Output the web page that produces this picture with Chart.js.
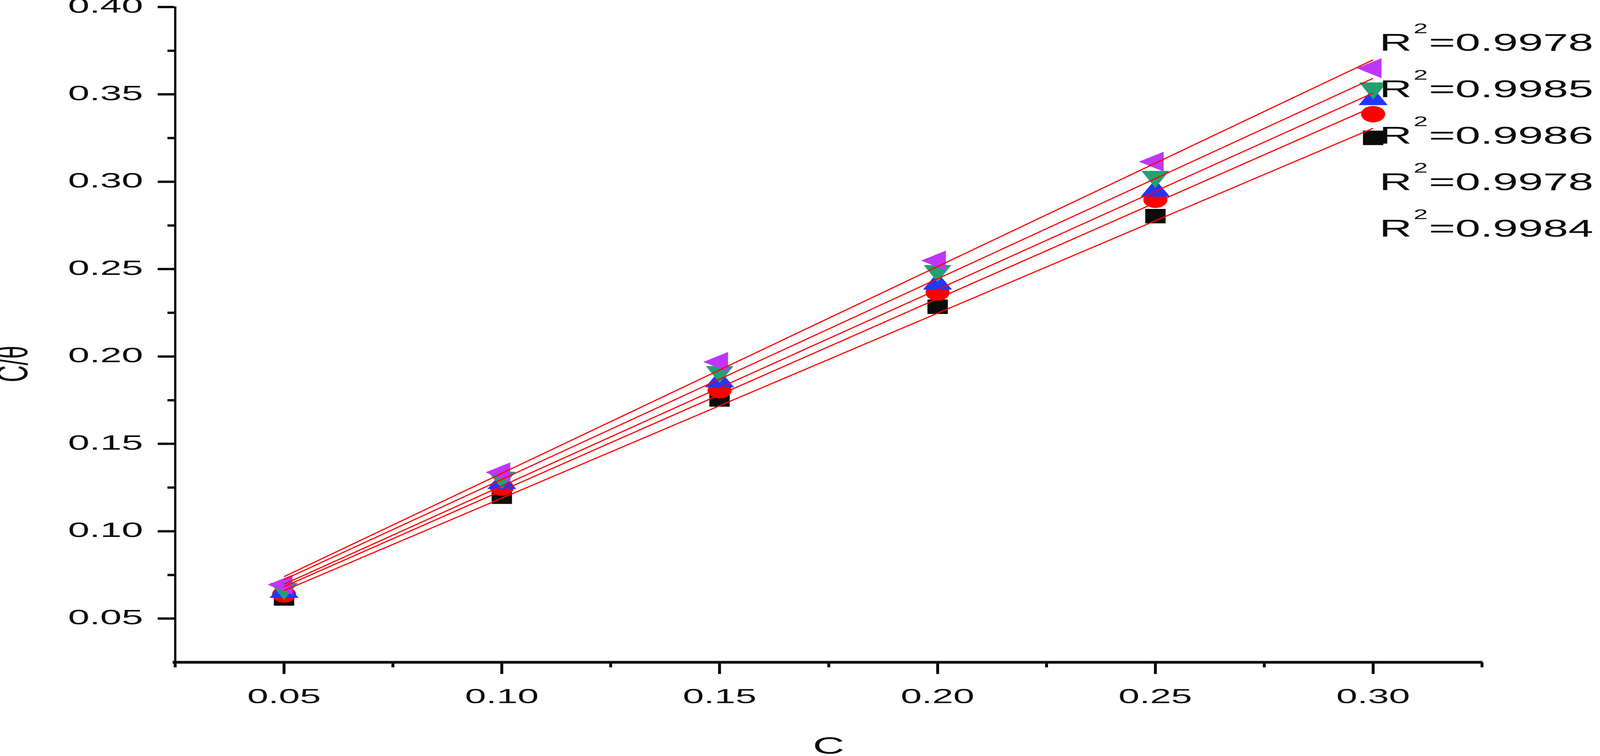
<!DOCTYPE html>
<html>
<head>
<meta charset="utf-8">
<title>C/θ vs C</title>
<script src="https://cdn.jsdelivr.net/npm/chart.js@4.4.1/dist/chart.umd.min.js"></script>
<style>
  html, body { margin: 0; padding: 0; background: #fff; overflow: hidden; }
  #wrap { position: relative; width: 2197px; height: 1936px; transform-origin: 0 0; }
</style>
</head>
<body>
<div id="wrap"><canvas id="isotherm"></canvas></div>
<script>
// data
const concentrations = [0.05, 0.10, 0.15, 0.20, 0.25, 0.30];
const squareSeries   = [0.0615, 0.1198, 0.1754, 0.2285, 0.2803, 0.3251];
const circleSeries   = [0.0638, 0.1250, 0.1807, 0.2366, 0.2897, 0.3387];
const upTriSeries    = [0.0651, 0.1274, 0.1856, 0.2415, 0.2948, 0.3471];
const downTriSeries  = [0.0672, 0.1308, 0.1913, 0.2491, 0.3030, 0.3536];
const leftTriSeries  = [0.0694, 0.1337, 0.1969, 0.2549, 0.3115, 0.3650];

// linear fit lines, start and end values
const fitX        = [0.05, 0.30];
const fitSquare   = [0.0660, 0.3306];
const fitCircle   = [0.0683, 0.3429];
const fitUpTri    = [0.0697, 0.3508];
const fitDownTri  = [0.0723, 0.3592];
const fitLeftTri  = [0.0740, 0.3698];

const r2Labels = ["0.9978", "0.9985", "0.9986", "0.9978", "0.9984"];

const xMajorTicks = [0.05, 0.10, 0.15, 0.20, 0.25, 0.30];
const xMinorTicks = [0.025, 0.075, 0.125, 0.175, 0.225, 0.275, 0.325];
const yMajorTicks = [0.05, 0.10, 0.15, 0.20, 0.25, 0.30, 0.35, 0.40];
const yMinorTicks = [0.075, 0.125, 0.175, 0.225, 0.275, 0.325, 0.375];

const FONT = '"Liberation Sans", Arial, sans-serif';
const INK = "#0b0b0b";
const NBSP = "\u00A0";

// the original figure is wide: lay it out at 2197x1936 and stretch it to the window
const wrap = document.getElementById("wrap");
const sx = (window.innerWidth || 4175) / 2197;
const sy = (window.innerHeight || 1936) / 1936;
wrap.style.transform = `scale(${sx}, ${sy})`;

let chart = null;

// marker images drawn at 4x so they stay sharp after the stretch
function makeMarker(w, h, draw) {
  const k = 4;
  const c = document.createElement("canvas");
  c.width = w * k;
  c.height = h * k;
  const g = c.getContext("2d");
  g.scale(k, k);
  draw(g);
  const img = new Image();
  img.width = w;
  img.height = h;
  img.onload = () => { if (chart) chart.draw(); };
  img.src = c.toDataURL();
  return img;
}

function poly(g, color, pts) {
  g.fillStyle = color;
  g.beginPath();
  pts.forEach(([x, y], i) => (i ? g.lineTo(x, y) : g.moveTo(x, y)));
  g.closePath();
  g.fill();
}

const squareImg = makeMarker(28, 37, g => { g.fillStyle = INK; g.fillRect(0, 0, 28, 37); });
const circleImg = makeMarker(33, 42, g => {
  g.fillStyle = "#ff0000";
  g.beginPath();
  g.ellipse(16.5, 21, 16.5, 21, 0, 0, Math.PI * 2);
  g.fill();
});
const upTriImg = makeMarker(40, 59, g => poly(g, "#2236ff", [[20, 0], [40, 44], [0, 44]]));
const downTriImg = makeMarker(38, 59, g => poly(g, "#22a073", [[0, 15], [38, 15], [19, 59]]));
const leftTriImg = makeMarker(45, 51, g => poly(g, "#bf36f8", [[0, 25.5], [34, 0], [34, 51]]));

function pointSet(label, values, img, order) {
  return {
    label,
    data: concentrations.map((c, i) => ({ x: c, y: values[i] })),
    pointStyle: img,
    pointRadius: 12,
    showLine: false,
    order
  };
}

function fitSet(label, ends) {
  return {
    label,
    data: fitX.map((c, i) => ({ x: c, y: ends[i] })),
    showLine: true,
    borderColor: "#ff0000",
    borderWidth: 2.5,
    pointRadius: 0,
    fill: false,
    order: 0
  };
}

// R² values written beside the line ends
const r2Plugin = {
  id: "r2Text",
  afterDraw(c) {
    const ctx = c.ctx;
    ctx.save();
    ctx.fillStyle = INK;
    ctx.textAlign = "left";
    ctx.textBaseline = "alphabetic";
    r2Labels.forEach((r, i) => {
      const y = 130 + i * 119;
      ctx.font = `62px ${FONT}`;
      ctx.fillText("R", 1894, y);
      ctx.fillText("=" + r, 1962, y);
      ctx.font = `35px ${FONT}`;
      ctx.fillText("2", 1941, y - 45);
    });
    ctx.restore();
  }
};

const tickFont = size => ({ family: FONT, size });

chart = new Chart(document.getElementById("isotherm"), {
  type: "scatter",
  data: {
    datasets: [
      pointSet("square", squareSeries, squareImg, 5),
      pointSet("circle", circleSeries, circleImg, 4),
      pointSet("up triangle", upTriSeries, upTriImg, 3),
      pointSet("down triangle", downTriSeries, downTriImg, 2),
      pointSet("left triangle", leftTriSeries, leftTriImg, 1),
      fitSet("fit square", fitSquare),
      fitSet("fit circle", fitCircle),
      fitSet("fit up", fitUpTri),
      fitSet("fit down", fitDownTri),
      fitSet("fit left", fitLeftTri)
    ]
  },
  options: {
    responsive: true,
    maintainAspectRatio: false,
    animation: false,
    devicePixelRatio: 2,
    events: [],
    layout: { padding: { left: 0, top: 18, right: 162, bottom: 0 } },
    plugins: {
      legend: { display: false },
      tooltip: { enabled: false }
    },
    scales: {
      x: {
        type: "linear",
        position: "bottom",
        min: 0.025,
        max: 0.325,
        afterBuildTicks: s => { s.ticks = xMajorTicks.map(v => ({ value: v })); },
        afterFit: s => { s.height = 240; s.paddingLeft = 0; s.paddingRight = 0; },
        ticks: {
          padding: 29,
          maxRotation: 0,
          autoSkip: false,
          color: INK,
          font: tickFont(52),
          callback: v => v.toFixed(2)
        },
        grid: { drawOnChartArea: false, tickLength: 30, tickWidth: 4, tickColor: INK },
        border: { color: INK, width: 7 },
        title: {
          display: true,
          text: "C",
          color: INK,
          font: { family: FONT, size: 60, lineHeight: 0.75 },
          padding: 0
        }
      },
      x2: {
        type: "linear",
        position: { y: 0.025 },
        min: 0.025,
        max: 0.325,
        afterBuildTicks: s => { s.ticks = xMinorTicks.map(v => ({ value: v })); },
        afterFit: s => { s.height = 0; s.paddingLeft = 0; s.paddingRight = 0; },
        ticks: { display: false },
        grid: { drawOnChartArea: false, tickLength: 13, tickWidth: 4, tickColor: INK },
        border: { display: false }
      },
      y: {
        type: "linear",
        position: "left",
        min: 0.025,
        max: 0.40,
        afterBuildTicks: s => { s.ticks = yMajorTicks.map(v => ({ value: v })); },
        afterFit: s => { s.width = 240.5; s.paddingTop = 0; s.paddingBottom = 0; },
        ticks: {
          padding: 20,
          color: INK,
          font: tickFont(53),
          callback: v => v.toFixed(2)
        },
        grid: { drawOnChartArea: false, tickLength: 24, tickWidth: 6, tickColor: INK },
        border: { color: INK, width: 3.2 },
        title: {
          display: true,
          text: "C/θ" + NBSP.repeat(9),
          color: INK,
          font: { family: FONT, size: 60, lineHeight: 0.7 },
          padding: 0
        }
      },
      y2: {
        type: "linear",
        position: { x: 0.025 },
        min: 0.025,
        max: 0.40,
        afterBuildTicks: s => { s.ticks = yMinorTicks.map(v => ({ value: v })); },
        afterFit: s => { s.width = 0; s.paddingTop = 0; s.paddingBottom = 0; },
        ticks: { display: false },
        grid: { drawOnChartArea: false, tickLength: 10.6, tickWidth: 6, tickColor: INK },
        border: { display: false }
      }
    }
  },
  plugins: [r2Plugin]
});
</script>
</body>
</html>
